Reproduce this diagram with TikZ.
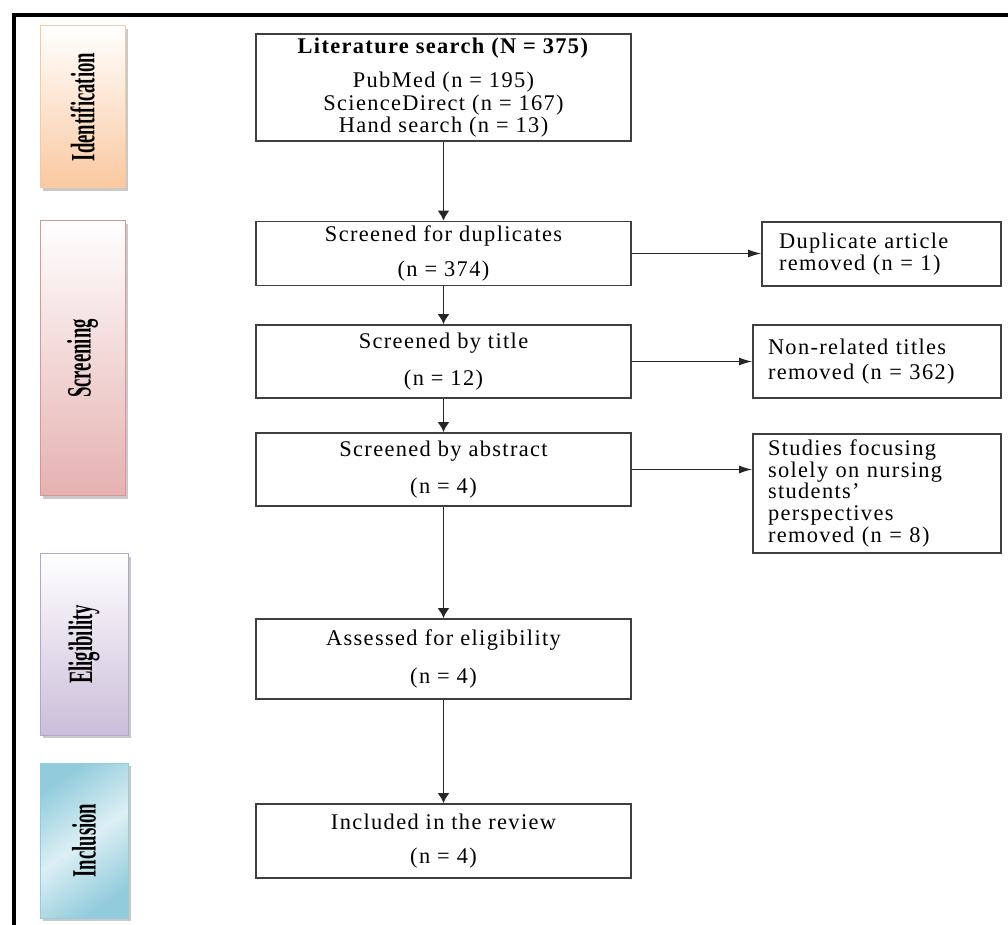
\documentclass[tikz,border=0pt]{standalone}
\usepackage{fontspec}
\setmainfont{Liberation Serif}
\newfontfamily\flowfont{Liberation Serif}[LetterSpace=6, Ligatures=TeX]
\usepackage{graphicx}
\usetikzlibrary{arrows.meta, positioning, shadows}
\definecolor{frameDark}{HTML}{3F3F3F}
\definecolor{idEdge}{HTML}{F9C89F}
\definecolor{idFill}{HTML}{FAC8A0}
\definecolor{scrEdge}{HTML}{D99694}
\definecolor{scrFill}{HTML}{E5B1B0}
\definecolor{eliEdge}{HTML}{B5A5CA}
\definecolor{eliFill}{HTML}{CBBDD9}
\definecolor{incEdge}{HTML}{93CDDD}
\definecolor{incDark}{HTML}{92CCDC}
\definecolor{incLight}{HTML}{DCEFF4}
\newcommand{\phaseText}[1]{\rotatebox{90}{\scalebox{0.55}[1]{\fontsize{17}{17}\selectfont\bfseries #1}}}
\tikzset{
  arrowDown/.style={-{Latex[length=5pt, width=6pt]}, line width=0.9pt, color=black!85},
  arrowSide/.style={-{Latex[length=6.5pt, width=4pt]}, line width=0.6pt, color=black!85},
  boxFlow/.style={rectangle, draw=frameDark, line width=0.9pt, fill=white,
                  align=center, minimum width=187.5pt, inner sep=2pt,
                  font=\flowfont\fontsize{11.2}{10}\selectfont},
  boxSide/.style={rectangle, draw=frameDark, line width=0.9pt, fill=white,
                  align=left, inner ysep=2pt,
                  font=\flowfont\fontsize{11.2}{10.8}\selectfont},
  boxPhase/.style={rectangle, line width=0.5pt, inner sep=0pt,
                   drop shadow={shadow xshift=1.5pt, shadow yshift=-1.5pt,
                                opacity=0.3, fill=black!70}},
}
\begin{document}
\begin{tikzpicture}[x=0.5pt, y=-0.5pt]
  \useasboundingbox (0,0) rectangle (1008,925);
  \draw[line width=2pt] (13.7,925) -- (13.7,14.7) -- (1008,14.7);

  \node[boxPhase, draw=idEdge, top color=white, bottom color=idFill,
        minimum width=42.5pt, minimum height=81pt] (ident) at (82.5,107) {\phaseText{Identification}};
  \node[boxPhase, draw=scrEdge, top color=white, bottom color=scrFill,
        minimum width=42.5pt, minimum height=137.5pt] (screen) at (82.5,358.5) {\phaseText{Screening}};
  \node[boxPhase, draw=eliEdge, top color=white, bottom color=eliFill,
        minimum width=44pt, minimum height=90.5pt] (elig) at (84,644.5) {\phaseText{Eligibility}};
  \node[boxPhase, draw=incEdge, top color=incDark, bottom color=incDark, middle color=incLight,
        shading angle=35, minimum width=44pt, minimum height=77.5pt] (incl) at (84,840.5) {\phaseText{Inclusion}};

  \node[boxFlow, minimum height=52.5pt] (search) at (443.5,87.5)
    {\textbf{Literature search (N = 375)}\\[6pt] PubMed (n = 195)\\ ScienceDirect (n = 167)\\ Hand search (n = 13)};
  \node[boxFlow, minimum height=31.5pt] (dup) at (443.5,253.5) {Screened for duplicates\\[6.5pt] (n = 374)};
  \node[boxFlow, minimum height=36.5pt] (title) at (443.5,361.5) {Screened by title\\[7pt] (n = 12)};
  \node[boxFlow, minimum height=36.5pt] (abstract) at (443.5,469.5) {Screened by abstract\\[7pt] (n = 4)};
  \node[boxFlow, minimum height=40pt] (assess) at (443.5,659) {Assessed for eligibility\\[7.5pt] (n = 4)};
  \node[boxFlow, minimum height=37pt] (review) at (443.5,841) {Included in the review\\[7pt] (n = 4)};

  \node[boxSide, inner xsep=8.5pt, text width=102.5pt, minimum height=32pt] (dupOut) at (881.5,254)
    {Duplicate article\\ removed (n = 1)};
  \node[boxSide, inner xsep=7.5pt, text width=109pt, minimum height=36.5pt] (titleOut) at (877,361.5)
    {Non-related titles\\[1.5pt] removed (n = 362)};
  \node[boxSide, inner xsep=7.5pt, text width=109pt, minimum height=59.5pt] (abstractOut) at (877,493.5)
    {Studies focusing\\ solely on nursing\\ students’\\ perspectives\\ removed (n = 8)};

  \draw[arrowDown] (search.south) -- (dup.north);
  \draw[arrowDown] (dup.south) -- (title.north);
  \draw[arrowDown] (title.south) -- (abstract.north);
  \draw[arrowDown] (abstract.south) -- (assess.north);
  \draw[arrowDown] (assess.south) -- (review.north);
  \draw[arrowSide] (dup.east) -- (dup.east -| dupOut.west);
  \draw[arrowSide] (title.east) -- (titleOut.west);
  \draw[arrowSide] (abstract.east) -- (abstract.east -| abstractOut.west);
\end{tikzpicture}
\end{document}
